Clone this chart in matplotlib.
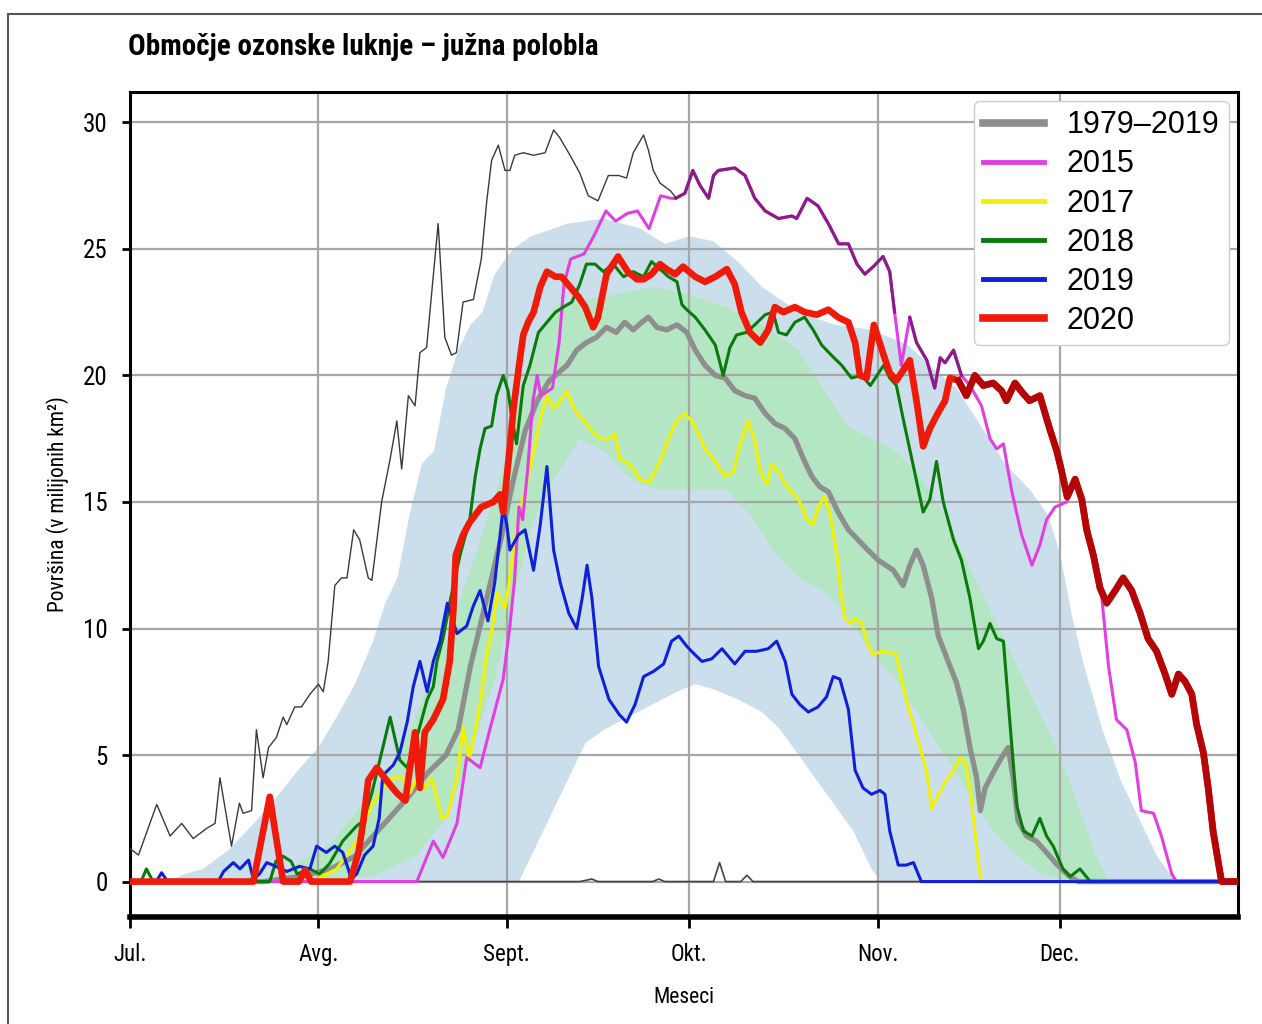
import numpy as np
import matplotlib
matplotlib.use("Agg")
import matplotlib.pyplot as plt
from matplotlib.patches import Rectangle

# days counted from 1 July
month_ticks = [0, 31, 62, 92, 123, 153]
month_labels = ['Jul.', 'Avg.', 'Sept.', 'Okt.', 'Nov.', 'Dec.']

# 1979-2019 maximum (before it follows 2015 / 2020)
max_days = [0, 1.4, 4.4, 6.6, 8.5, 10.4, 12.6, 14, 14.8, 16.7, 18, 18.6, 20, 20.8, 21.9, 22.8,
            24.1, 25.2, 25.8, 27.1, 28.2, 29.6, 31, 31.8, 32.6, 33.7, 34.8, 35.7, 36.8, 37.8,
            39.2, 39.8, 41.4, 42.8, 43.9, 44.7, 45.8, 46.9, 47.7, 48.8, 50.7, 51.8, 52.9, 53.7,
            54.8, 56.5, 57.8, 58.7, 59.5, 60.6, 61.7, 62.5, 63.3, 64.7, 66.4, 68.3, 69.7, 70.7,
            72.4, 74.0, 75.4, 77.0, 78.7, 80.4, 81.7, 82.8, 84.5, 85.3, 86.1, 87.2, 88.9, 89.9]
max_vals = [1.3, 1.05, 3.05, 1.8, 2.3, 1.7, 2.1, 2.3, 4.1, 1.4, 3.1, 2.7, 2.8, 6.0, 4.1, 5.3,
            5.7, 6.5, 6.2, 6.9, 6.9, 7.4, 7.8, 7.5, 8.7, 11.7, 12.0, 12.0, 13.9, 13.5,
            12.0, 11.9, 15.0, 16.7, 18.2, 16.3, 19.2, 18.8, 20.9, 21.1, 26.0, 21.5, 20.8, 20.9,
            22.9, 23.0, 24.6, 26.9, 28.5, 29.1, 28.1, 28.1, 28.7, 28.8, 28.7, 28.8, 29.7, 29.4,
            28.7, 28.0, 27.1, 26.9, 27.9, 27.9, 27.8, 28.8, 29.5, 28.9, 28.1, 27.6, 27.3, 27.0]

# 1979-2019 minimum
min_days = [0, 74, 76, 77, 86, 87, 88, 96, 97, 98, 100.5, 101.5, 102.5, 182.5]
min_vals = [0, 0, 0.1, 0, 0, 0.1, 0, 0, 0.75, 0, 0, 0.25, 0, 0]

# 1979-2019 mean
mean_days = [0, 22, 28, 33, 37, 40, 43, 46, 49, 52, 54, 56, 58.7, 61, 63, 65, 67, 69, 71.9,
             73.5, 75.1, 76.7, 78.4, 80.0, 81.4, 82.8, 84.2, 85.3, 86.7, 88.3, 90.0, 91.6, 93.0,
             94.6, 96.3, 97.9, 99.5, 101.2, 102.8, 104.5, 106.1, 107.8, 109.4, 110.8, 112.2,
             113.5, 114.9, 116.5, 118.2, 119.8, 121.4, 123.1, 125.6, 127.2, 128.3, 129.4, 130.5,
             131.9, 133.0, 134.6, 136.0, 137.1, 138.2, 139.3, 139.9, 140.7, 142.0, 143.4, 144.5,
             145.3, 146.1, 147.5, 149.1, 150.8, 152.4, 154.6, 156, 182.5]
mean_vals = [0, 0, 0.2, 0.5, 1.0, 1.8, 2.6, 3.4, 4.3, 5.0, 6.0, 8.5, 11.2, 13.5, 15.8, 17.8, 19.0,
             19.8, 20.4, 21.0, 21.3, 21.5, 21.9, 21.7, 22.1, 21.8, 22.1, 22.3, 21.9, 21.8, 22.0,
             21.7, 21.0, 20.4, 20.0, 19.9, 19.4, 19.2, 19.1, 18.5, 18.1, 17.9, 17.5, 16.7, 16.0,
             15.6, 15.4, 14.6, 13.9, 13.5, 13.1, 12.7, 12.3, 11.7, 12.5, 13.1, 12.5, 11.2, 9.7,
             8.7, 7.85, 6.8, 5.3, 4.1, 2.8, 3.7, 4.3, 4.9, 5.3, 4.1, 2.4, 1.8, 1.6, 1.15, 0.7,
             0.2, 0, 0]

# 10-90 % range (light blue)
blue_up_days = [6, 9, 12, 16, 20, 24, 28, 31, 34, 37, 40, 42, 44, 46, 48, 50, 52, 54, 56, 58,
                60, 63, 66, 72, 78, 84, 88, 92, 96, 100, 104, 110, 116, 122, 128, 132, 136, 140,
                144, 148, 151, 153, 155, 157, 160, 163, 166, 169, 172]
blue_up_vals = [0, 0.3, 0.5, 1.2, 2.2, 3.3, 4.5, 5.3, 6.5, 7.8, 9.5, 11, 12, 14.5, 16.5, 17,
                19.5, 21, 22, 22.5, 24, 25, 25.5, 26, 26.2, 25.8, 25.2, 25.5, 25.3, 24.5, 23.5,
                22.5, 22, 21.8, 21.2, 20.3, 19.5, 18, 16.5, 15.5, 14.5, 13, 10.5, 8.5, 6, 4,
                2.5, 1, 0]
blue_lo_days = [6, 64, 66, 69, 72, 75, 78, 82, 86, 90, 93, 96, 100, 104, 107, 110, 113, 116,
                119, 122, 123.5, 172]
blue_lo_vals = [0, 0, 1, 2.5, 4, 5.5, 6, 6.5, 7, 7.5, 7.8, 7.6, 7.2, 6.7, 6, 5, 4, 3, 2, 0.5,
                0, 0]

# 25-75 % range (light green)
green_up_days = [24, 28, 33, 38, 43, 47, 52, 57, 61, 64, 67, 70, 75, 80, 86, 92, 98, 104, 110,
                 114, 118, 122, 126, 130, 134, 138, 142, 146, 150, 153, 156, 159, 161]
green_up_vals = [0, 0.8, 1.5, 3, 4.5, 6.5, 9.5, 13, 16, 19, 21.5, 22.8, 23, 23.2, 23.5, 23.2,
                 22.7, 22, 21, 19.5, 18, 17.5, 17, 16, 14.5, 12.5, 10.5, 8.5, 6.5, 5, 3, 1, 0]
green_lo_days = [24, 40, 47, 52, 56, 60, 63, 66, 70, 74, 78, 82, 86, 98, 102, 106, 110, 114,
                 118, 122, 126, 130, 134, 138, 142, 146, 150, 154, 161]
green_lo_vals = [0, 0.2, 1, 2.5, 5, 8, 11, 14, 16, 17.5, 17, 16, 15.5, 15.5, 14.5, 13, 12,
                 11.5, 10.5, 9, 8, 6.5, 5, 3.5, 2, 1, 0.3, 0, 0]

d2015 = [0, 47.2, 49.9, 51.5, 53.8, 55.4, 57.6, 59.2, 61.4, 62.5, 63.3, 64.0, 64.6, 65.4, 66.3,
         67.0, 67.6, 69.5, 70.6, 71.4, 72.5, 74.7, 76.3, 78.3, 79.9, 81.8, 83.5, 85.4, 87.3,
         89.0, 89.8, 91.3, 92.6, 93.8, 95.2, 96.0, 96.8, 99.5, 101.2, 102.8, 104.5, 106.7,
         108.9, 109.7, 111.4, 113.2, 114.9, 116.6, 118.2, 119.6, 120.9, 122.3, 123.9, 125.0,
         125.8, 126.9, 128.3, 129.4, 131.1, 132.4, 133.3, 134.1, 135.5, 136.8, 138.2, 140.1,
         141.5, 142.6, 143.7, 145.1, 146.7, 148.4, 149.7, 150.8, 152.2, 154.1, 155.5, 156.9,
         158.5, 159.9, 161.0, 162.3, 164.0, 165.4, 166.4, 168.4, 169.7, 171.4, 172.2, 182.5]
v2015 = [0, 0, 1.6, 0.95, 2.3, 4.9, 4.5, 6.0, 8.0, 10.1, 12.0, 14.8, 14.3, 16.2, 19.0,
         20.0, 19.2, 19.5, 21.3, 23.6, 24.6, 24.8, 25.5, 26.5, 26.1, 26.4, 26.5, 25.8, 27.1,
         27.0, 27.0, 27.2, 28.1, 27.5, 27.0, 27.9, 28.1, 28.2, 27.9, 27.0, 26.5, 26.2,
         26.3, 26.2, 27.0, 26.7, 26.0, 25.2, 25.2, 24.4, 24.0, 24.3, 24.7, 24.1,
         22.5, 20.4, 22.3, 21.3, 20.6, 19.5, 20.7, 20.5, 21.0, 20.0, 19.6, 18.8,
         17.5, 17.1, 17.3, 15.4, 13.7, 12.5, 13.3, 14.3, 14.8, 15.0, 15.8, 15.0,
         12.9, 11.2, 8.5, 6.4, 6.0, 4.7, 2.8, 2.7, 1.8, 0.3, 0, 0]

d2017 = [0, 30, 34, 37.3, 38.6, 40.0, 41.6, 43.3, 44.9, 46.1, 47.2, 48.6, 49.6, 50.5, 51.3,
         52.2, 53.8, 54.8, 55.8, 57.6, 58.7, 59.5, 60.4, 61.7, 62.5, 63.3, 64.2, 65.3, 66.4,
         67.5, 68.6, 69.7, 70.8, 71.9, 73.0, 74.3, 75.7, 77.3, 79.0, 79.8, 80.6, 82.2, 83.9,
         85.5, 87.2, 88.6, 89.9, 91.3, 92.7, 94.6, 96.3, 97.9, 99.3, 100.4, 101.7, 102.8,
         103.7, 104.8, 105.6, 106.7, 107.8, 108.9, 110.0, 111.4, 112.4, 113.2, 114.3, 115.2,
         116.3, 117.1, 117.6, 118.7, 119.3, 120.4, 121.5, 122.3, 124.0, 126.0, 127.7, 128.9,
         130.0, 131.1, 131.9, 132.7, 134.1, 135.5, 136.6, 137.4, 138.2, 139.0, 139.6, 140.1,
         182.5]
v2017 = [0, 0, 0.5, 1.6, 2.4, 3.1, 3.7, 4.1, 4.1, 3.5, 4.1, 3.7, 4.1, 3.3, 2.5,
         2.6, 4.1, 6.1, 4.8, 7.0, 9.0, 9.9, 11.4, 10.8, 12.0, 13.5, 14.6, 15.8, 16.9,
         18.3, 19.2, 18.7, 19.0, 19.4, 18.7, 18.3, 17.9, 17.5, 17.5, 17.7, 16.7, 16.5, 15.9,
         15.8, 16.6, 17.5, 18.2, 18.5, 18.1, 17.1, 16.6, 16.0, 16.2, 17.3, 18.2, 17.4,
         16.2, 15.7, 16.5, 16.2, 15.7, 15.4, 15.1, 14.3, 14.1, 14.8, 15.2, 14.5,
         12.9, 11.2, 10.4, 10.2, 10.4, 10.2, 9.3, 9.0, 9.1, 9.0, 7.2, 6.2,
         5.3, 4.3, 2.9, 3.3, 3.9, 4.4, 4.9, 4.7, 3.7, 2.0, 0.7, 0, 0]

d2018 = [0, 1.8, 2.7, 3.8, 23, 24, 25.2, 26.5, 27.5, 29.6, 31.2, 32.8, 35.0, 37.3, 38.4, 39.8,
         41.1, 42.8, 44.4, 45.6, 47.2, 48.9, 49.9, 50.5, 51.5, 52.6, 54.3, 55.9, 56.8, 57.6,
         58.4, 59.5, 60.3, 61.4, 62.2, 62.9, 63.6, 64.7, 65.8, 67.2, 68.6, 70.0, 71.3, 72.7,
         74.0, 75.1, 76.5, 77.9, 79.5, 81.2, 82.8, 84.5, 85.8, 87.2, 88.6, 90.0, 90.8, 91.6,
         93.0, 94.6, 96.3, 97.6, 98.7, 99.8, 101.4, 102.8, 104.5, 105.8, 106.7, 108.0, 109.4,
         111.0, 112.4, 113.8, 115.4, 117.1, 118.7, 120.4, 121.8, 124.0, 125.0, 126.1, 127.2,
         128.9, 130.5, 131.6, 132.7, 133.8, 135.5, 136.8, 138.2, 139.6, 140.4, 141.5, 142.6,
         143.7, 144.8, 145.9, 147.0, 148.4, 149.7, 150.8, 151.9, 153.5, 154.7, 156.3, 158.0,
         182.5]
v2018 = [0, 0, 0.5, 0, 0, 0.8, 1.0, 0.8, 0.3, 0.5, 0.3, 0.7, 1.6, 2.2, 2.4, 3.5,
         4.8, 6.5, 4.8, 4.5, 5.7, 7.2, 7.7, 8.7, 9.6, 11.0, 12.9, 14.3, 16.0, 17.1,
         17.9, 18.0, 19.2, 20.0, 19.4, 18.2, 17.3, 19.6, 20.4, 21.7, 22.1, 22.5, 22.7, 22.9,
         23.6, 24.4, 24.4, 24.1, 24.4, 23.9, 24.1, 23.9, 24.5, 24.2, 23.9, 23.7, 22.8, 22.6,
         22.3, 21.8, 21.2, 20.0, 21.1, 21.6, 21.7, 22.0, 22.4, 22.5, 21.7, 21.6, 22.1,
         22.3, 21.8, 21.2, 20.8, 20.4, 19.9, 20.0, 19.6, 20.4, 19.9, 19.6, 18.3,
         16.4, 14.6, 15.1, 16.6, 15.0, 13.5, 12.7, 11.2, 9.2, 9.5, 10.2, 9.6,
         9.5, 6.2, 3.0, 2.0, 1.8, 2.5, 1.8, 1.4, 0.5, 0.2, 0.5, 0, 0]

d2019 = [0, 4.3, 5.2, 6.2, 14.5, 15.4, 17.0, 18.1, 19.5, 20.3, 21.3, 22.5, 24.0, 25.8, 27.9,
         29.6, 30.7, 32.3, 33.7, 35.0, 35.9, 36.4, 37.3, 38.6, 40.0, 41.0, 41.6, 43.3, 44.4,
         45.6, 46.6, 47.7, 48.9, 49.9, 51.0, 52.2, 53.8, 55.4, 56.5, 57.6, 58.9, 60.0, 60.9,
         61.4, 62.0, 62.5, 63.9, 65.0, 66.4, 67.5, 68.6, 69.7, 70.8, 72.2, 73.5, 74.4, 75.2,
         76.0, 77.1, 78.8, 80.5, 81.7, 83.1, 84.5, 86.1, 87.8, 89.1, 90.3, 91.6, 92.8, 94.1,
         95.7, 97.4, 99.5, 101.2, 103.1, 105.0, 106.4, 107.8, 108.9, 110.2, 111.6, 113.2,
         114.6, 115.7, 116.8, 118.2, 119.3, 120.6, 122.0, 123.4, 124.2, 125.0, 126.4, 127.7,
         128.9, 130.2, 182.5]
v2019 = [0, 0, 0.35, 0, 0, 0.4, 0.75, 0.5, 0.85, 0.1, 0.3, 0.75, 0.6, 0.4, 0.6,
         0.5, 1.4, 1.15, 1.4, 1.15, 0.5, 0.1, 0.3, 1.05, 1.4, 2.5, 4.2, 4.6, 5.1,
         6.3, 7.7, 8.7, 7.5, 8.7, 9.5, 11.0, 9.8, 10.1, 10.9, 11.5, 10.3, 11.8, 13.7,
         14.8, 14.1, 13.1, 13.7, 13.9, 12.3, 14.1, 16.4, 13.1, 11.8, 10.6, 10.0, 11.2, 12.5,
         11.2, 8.5, 7.2, 6.6, 6.3, 7.0, 8.1, 8.3, 8.6, 9.5, 9.7, 9.3, 9.0, 8.7,
         8.8, 9.2, 8.6, 9.1, 9.1, 9.2, 9.5, 8.7, 7.4, 7.0, 6.7, 6.9,
         7.3, 8.1, 8.0, 6.8, 4.4, 3.7, 3.45, 3.6, 3.45, 2.0, 0.65, 0.65,
         0.75, 0, 0]

d2020 = [0, 20.3, 21.5, 23.0, 24.2, 25.2, 27.8, 28.8, 29.8, 36.2, 37.6, 38.4, 39.2, 40.6,
         42.2, 43.9, 45.3, 46.9, 47.7, 48.5, 49.9, 51.5, 52.6, 53.2, 53.6, 54.8, 55.9, 57.8,
         59.8, 60.9, 61.4, 62.3, 63.1, 63.9, 64.7, 65.5, 66.4, 67.5, 68.6, 70.0, 71.0, 72.4,
         73.8, 74.9, 76.2, 77.0, 78.4, 80.3, 81.9, 83.4, 84.5, 85.8, 87.2, 88.3, 89.7, 91.0,
         93.0, 94.6, 96.3, 98.2, 99.5, 100.6, 102.0, 103.7, 105.0, 106.1, 107.5, 109.4, 111.0,
         113.0, 114.9, 116.5, 118.2, 119.3, 120.1, 121.2, 122.4, 124.0, 125.0, 126.1, 127.2,
         128.3, 129.4, 130.5, 131.6, 132.9, 134.1, 134.9, 136.3, 137.6, 139.0, 140.4, 142.0,
         143.4, 144.2, 145.6, 146.9, 148.0, 149.7, 151.3, 152.5, 153.3, 154.2, 155.5, 156.6,
         157.4, 158.5, 159.6, 160.7, 162.1, 163.4, 164.8, 166.2, 167.5, 168.9, 170.3, 171.4,
         172.5, 173.6, 174.7, 175.5, 176.6, 177.4, 178.2, 179.1, 179.6, 182.5]
v2020 = [0, 0, 1.5, 3.35, 1.5, 0, 0, 0.45, 0, 0, 1.15, 2.4, 4.0, 4.5,
         4.0, 3.5, 3.2, 5.9, 3.7, 5.9, 6.4, 7.2, 8.7, 10.7, 12.9, 13.7, 14.2, 14.8,
         15.0, 15.3, 14.6, 16.7, 18.7, 20.2, 21.6, 22.1, 22.5, 23.5, 24.1, 23.9, 23.9, 23.5,
         23.1, 22.7, 21.9, 22.3, 24.0, 24.7, 24.1, 23.8, 23.8, 24.0, 24.4, 24.2, 24.0, 24.3,
         23.9, 23.7, 23.9, 24.2, 23.6, 22.5, 21.7, 21.3, 21.8, 22.7, 22.5, 22.7, 22.5,
         22.4, 22.6, 22.3, 22.1, 21.3, 20.0, 19.9, 22.0, 20.8, 20.1, 19.8, 20.2,
         20.6, 19.0, 17.2, 17.9, 18.5, 19.0, 19.9, 19.8, 19.2, 20.0, 19.6, 19.7,
         19.4, 19.0, 19.7, 19.3, 19.0, 19.2, 17.9, 17.0, 16.2, 15.2, 15.9, 15.1,
         13.9, 12.9, 11.6, 11.0, 11.5, 12.0, 11.5, 10.6, 9.6, 9.1, 8.2, 7.4,
         8.2, 7.9, 7.4, 6.2, 5.1, 3.7, 2.0, 0.7, 0, 0]

fig = plt.figure(figsize=(12.62, 10.24), dpi=100)
ax = fig.add_axes([130 / 1262, 1 - 917 / 1024, (1238 - 130) / 1262, (917 - 92) / 1024])

narrow = ['Roboto Condensed', 'Liberation Sans Narrow', 'Roboto', 'DejaVu Sans']

# bands
ax.fill(np.concatenate([blue_up_days, blue_lo_days[::-1]]),
        np.concatenate([blue_up_vals, blue_lo_vals[::-1]]),
        color='#cadfeb', lw=0, zorder=1)
ax.fill(np.concatenate([green_up_days, green_lo_days[::-1]]),
        np.concatenate([green_up_vals, green_lo_vals[::-1]]),
        color='#b4e6c4', lw=0, zorder=1.1)

ax.plot(min_days, min_vals, color='#444444', lw=1.2, zorder=2)
ax.plot(mean_days, mean_vals, color='#8e8e8e', lw=3.8, zorder=2.1, label='1979–2019')
ax.plot(d2015, v2015, color='#e040e0', lw=2.2, zorder=2.3, label='2015')
ax.plot(d2017, v2017, color='#f2f200', lw=2.2, zorder=2.2, label='2017')
ax.plot(d2018, v2018, color='#0a7a0a', lw=2.2, zorder=2.4, label='2018')
ax.plot(d2019, v2019, color='#1020d8', lw=2.2, zorder=2.5, label='2019')
ax.plot(d2020, v2020, color='#f01a0a', lw=4.8, zorder=2.7, label='2020')

# where a year is also the 1979-2019 maximum the thin black line darkens it
a15 = np.array(d2015)
b15 = np.array(v2015)
for lo, hi in [(89.8, 125.8), (128.3, 136.8)]:
    m = (a15 >= lo) & (a15 <= hi)
    ax.plot(a15[m], b15[m], color='#8a1c8a', lw=2.2, zorder=2.35)
a20 = np.array(d2020)
b20 = np.array(v2020)
m = a20 >= 136.3
ax.plot(a20[m], b20[m], color='#b40606', lw=4.8, zorder=2.75)
ax.plot(max_days, max_vals, color='#3a3a3a', lw=1.0, zorder=2.8)

ax.set_xlim(0, 182.3)
ax.set_ylim(-1.4, 31.2)
ax.set_xticks(month_ticks)
ax.set_xticklabels(month_labels, family=narrow, fontsize=16.5)
ax.set_yticks([0, 5, 10, 15, 20, 25, 30])
ax.set_yticklabels(['0', '5', '10', '15', '20', '25', '30'], family=narrow, fontsize=18)
ax.set_axisbelow('line')
ax.grid(True, color='#a6a6a6', lw=1.6)
ax.tick_params(axis='x', direction='out', length=8, width=2, pad=11)
ax.tick_params(axis='y', direction='out', length=6, width=2, pad=10)
for side in ['left', 'top', 'right']:
    ax.spines[side].set_linewidth(2.2)
ax.spines['bottom'].set_linewidth(4)

ax.set_xlabel('Meseci', family=narrow, fontsize=15.5, labelpad=15)
ax.set_ylabel('Površina (v milijonih km²)', family=narrow, fontsize=15.5, labelpad=10)

leg = ax.legend(loc='upper right', prop={'family': ['Liberation Sans', 'DejaVu Sans'], 'size': 22},
                frameon=True, framealpha=1, edgecolor='#cfcfcf', fancybox=True,
                labelspacing=0.3, handlelength=2.0, handletextpad=0.75,
                borderpad=0.3, borderaxespad=0.3)
for line in leg.get_lines():
    line.set_linewidth(5.5 if line.get_label() in ('1979–2019', '2020') else 3.5)

fig.text(128 / 1262, 1 - 47 / 1024, 'Območje ozonske luknje – južna polobla',
         family=narrow, fontsize=21, fontweight='bold', ha='left', va='center')

fig.add_artist(Rectangle((8 / 1262, -0.05), 1.1, 1.05 - 14 / 1024, transform=fig.transFigure,
                         fill=False, edgecolor='#555555', lw=1.5, clip_on=False))

fig.savefig('out.png', dpi=100)
